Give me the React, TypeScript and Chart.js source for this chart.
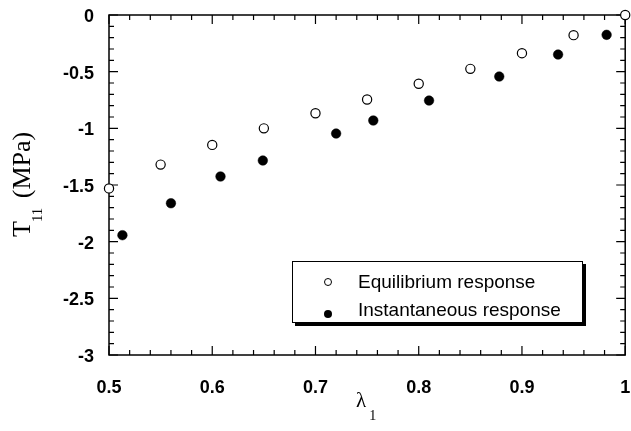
import React, { useEffect, useRef } from "react";
import { Chart, registerables } from "chart.js";

Chart.register(...registerables);

// ---- data ----
const equilibriumX = [0.5, 0.55, 0.6, 0.65, 0.7, 0.75, 0.8, 0.85, 0.9, 0.95, 1.0];
const equilibriumY = [-1.53, -1.32, -1.146, -1.0, -0.867, -0.746, -0.607, -0.475, -0.337, -0.178, 0];
const instantaneousX = [0.513, 0.56, 0.608, 0.649, 0.72, 0.756, 0.81, 0.878, 0.935, 0.982];
const instantaneousY = [-1.943, -1.661, -1.425, -1.284, -1.046, -0.931, -0.755, -0.543, -0.349, -0.175];

const seriesNames = ["Equilibrium response", "Instantaneous response"];

const xTicks = [0.5, 0.6, 0.7, 0.8, 0.9, 1.0];
const xTickLabels = ["0.5", "0.6", "0.7", "0.8", "0.9", "1"];
const yTicks = [-3, -2.5, -2, -1.5, -1, -0.5, 0];
const yTickLabels = ["-3", "-2.5", "-2", "-1.5", "-1", "-0.5", "0"];

const X_MIN = 0.5, X_MAX = 1.0, X_MINOR = 0.02;
const Y_MIN = -3, Y_MAX = 0, Y_MINOR = 0.1;

const framePlugin = {
  id: "frameTicks",
  beforeDatasetsDraw(chart: any) {
    const { ctx, chartArea, scales } = chart;
    const { left, right, top, bottom } = chartArea;
    const xs = scales.x, ys = scales.y;
    ctx.save();
    ctx.strokeStyle = "#000";
    ctx.lineWidth = 1.5;
    ctx.strokeRect(left, top, right - left, bottom - top);
    ctx.lineWidth = 1.2;
    const nx = Math.round((X_MAX - X_MIN) / X_MINOR);
    for (let i = 0; i <= nx; i++) {
      const v = X_MIN + i * X_MINOR;
      const p = xs.getPixelForValue(v);
      const len = i % 5 === 0 ? 9 : 5;
      ctx.beginPath();
      ctx.moveTo(p, bottom);
      ctx.lineTo(p, bottom - len);
      ctx.moveTo(p, top);
      ctx.lineTo(p, top + len);
      ctx.stroke();
    }
    const ny = Math.round((Y_MAX - Y_MIN) / Y_MINOR);
    for (let i = 0; i <= ny; i++) {
      const v = Y_MIN + i * Y_MINOR;
      const p = ys.getPixelForValue(v);
      const len = i % 5 === 0 ? 9 : 5;
      ctx.beginPath();
      ctx.moveTo(left, p);
      ctx.lineTo(left + len, p);
      ctx.moveTo(right, p);
      ctx.lineTo(right - len, p);
      ctx.stroke();
    }
    ctx.restore();
  },
  afterDraw(chart: any) {
    const { ctx } = chart;
    ctx.save();
    ctx.fillStyle = "#000";
    ctx.textBaseline = "alphabetic";
    ctx.textAlign = "left";

    // Y title: T11 (MPa), rotated
    ctx.save();
    ctx.translate(30, 237);
    ctx.rotate(-Math.PI / 2);
    ctx.font = "26px 'Liberation Serif', 'Times New Roman', serif";
    ctx.fillText("T", 0, 0);
    let w = ctx.measureText("T").width;
    ctx.font = "15px 'Liberation Serif', 'Times New Roman', serif";
    ctx.fillText("11", w - 1, 12);
    w += ctx.measureText("11").width;
    ctx.font = "26px 'Liberation Serif', 'Times New Roman', serif";
    ctx.fillText(" (MPa)", w + 2, 0);
    ctx.restore();

    // X title: λ1
    ctx.font = "21px 'Liberation Serif', 'Times New Roman', serif";
    ctx.fillText("λ", 356, 407);
    const lw = ctx.measureText("λ").width;
    ctx.font = "14px 'Liberation Serif', 'Times New Roman', serif";
    ctx.fillText("1", 356 + lw + 3, 420);

    // Legend box with shadow
    const bx = 292, by = 261, bw = 290, bh = 61;
    ctx.fillStyle = "#000";
    ctx.fillRect(bx + 3, by + 3, bw + 1, bh + 1);
    ctx.fillStyle = "#fff";
    ctx.fillRect(bx, by, bw, bh);
    ctx.strokeStyle = "#000";
    ctx.lineWidth = 1;
    ctx.strokeRect(bx + 0.5, by + 0.5, bw, bh);

    // markers
    ctx.beginPath();
    ctx.arc(328, 282, 3.5, 0, Math.PI * 2);
    ctx.fillStyle = "#fff";
    ctx.fill();
    ctx.lineWidth = 1;
    ctx.strokeStyle = "#000";
    ctx.stroke();
    ctx.beginPath();
    ctx.arc(328, 314, 4, 0, Math.PI * 2);
    ctx.fillStyle = "#000";
    ctx.fill();

    ctx.font = "19px 'Liberation Sans', Arial, sans-serif";
    ctx.fillStyle = "#000";
    ctx.fillText(seriesNames[0], 358, 288);
    ctx.fillText(seriesNames[1], 358, 316);
    ctx.restore();
  },
};

export default function App() {
  const ref = useRef<HTMLCanvasElement | null>(null);
  useEffect(() => {
    if (!ref.current) return;
    const chart = new Chart(ref.current, {
      type: "scatter",
      data: {
        datasets: [
          {
            label: seriesNames[0],
            data: equilibriumX.map((x, i) => ({ x, y: equilibriumY[i] })),
            pointRadius: 4.6,
            pointBorderWidth: 1.2,
            pointBackgroundColor: "#fff",
            pointBorderColor: "#000",
            clip: false as any,
          },
          {
            label: seriesNames[1],
            data: instantaneousX.map((x, i) => ({ x, y: instantaneousY[i] })),
            pointRadius: 4.8,
            pointBorderWidth: 0.5,
            pointBackgroundColor: "#000",
            pointBorderColor: "#000",
            clip: false as any,
          },
        ],
      },
      options: {
        responsive: false,
        animation: false,
        devicePixelRatio: 1,
        layout: { padding: { top: 15, right: 5, left: 0, bottom: 0 } },
        plugins: { legend: { display: false }, tooltip: { enabled: false } },
        scales: {
          x: {
            type: "linear",
            min: X_MIN,
            max: X_MAX,
            grid: { display: false, drawTicks: false },
            border: { display: false },
            afterBuildTicks: (s: any) => {
              s.ticks = xTicks.map((v) => ({ value: v }));
            },
            afterFit: (s: any) => {
              s.height = 76;
              s.paddingLeft = 0;
              s.paddingRight = 0;
            },
            ticks: {
              padding: 22,
              color: "#000",
              maxRotation: 0,
              font: { family: "'Liberation Sans', Arial, sans-serif", size: 18, weight: "bold" },
              callback: (_v: any, i: number) => xTickLabels[i],
            },
          },
          y: {
            type: "linear",
            min: Y_MIN,
            max: Y_MAX,
            grid: { display: false, drawTicks: false },
            border: { display: false },
            afterBuildTicks: (s: any) => {
              s.ticks = yTicks.map((v) => ({ value: v }));
            },
            afterFit: (s: any) => {
              s.width = 109;
              s.paddingTop = 0;
              s.paddingBottom = 0;
            },
            ticks: {
              padding: 15,
              color: "#000",
              labelOffset: 2,
              font: { family: "'Liberation Sans', Arial, sans-serif", size: 18, weight: "bold" },
              callback: (_v: any, i: number) => yTickLabels[i],
            },
          },
        },
      },
      plugins: [framePlugin],
    });
    return () => chart.destroy();
  }, []);
  return (
    <div style={{ position: "fixed", left: 0, top: 0, width: 631, height: 431, background: "#fff" }}>
      <canvas ref={ref} width={631} height={431} style={{ display: "block" }} />
    </div>
  );
}
